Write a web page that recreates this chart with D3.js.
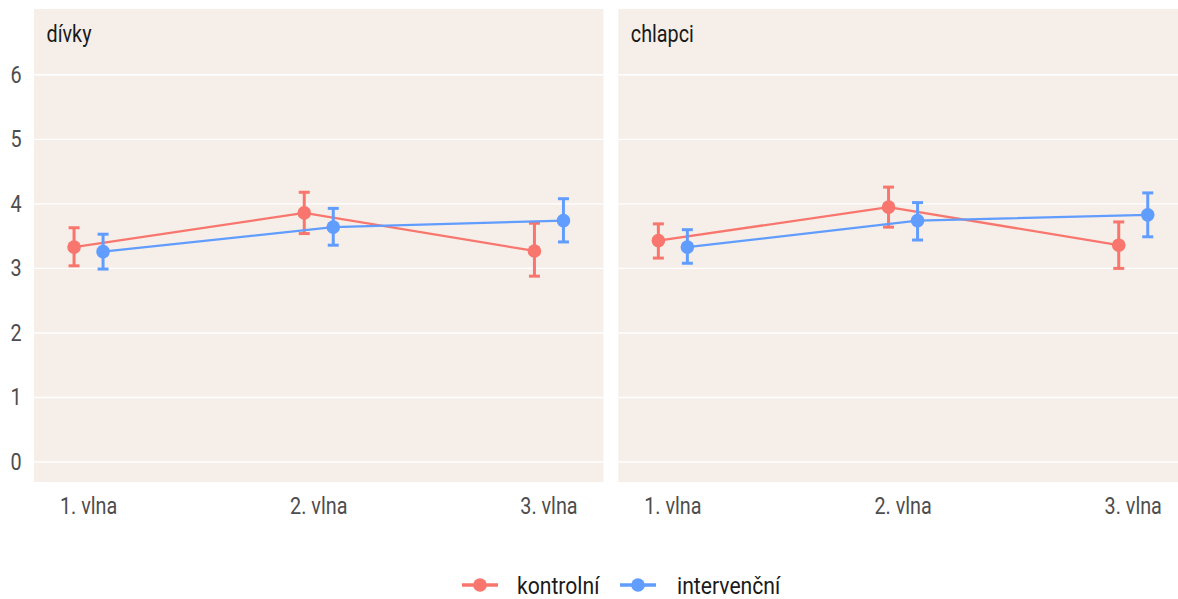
<!DOCTYPE html>
<html><head><meta charset="utf-8">
<script src="https://cdn.jsdelivr.net/npm/d3@7"></script>
<style>body{margin:0;background:#fff}svg{display:block}</style>
</head><body>
<svg id="c" width="1178" height="599"></svg>
<script>
const waves = ["1. vlna", "2. vlna", "3. vlna"];
const facets = ["dívky", "chlapci"];
const groups = ["kontrolní", "intervenční"];
const yTicks = [0, 1, 2, 3, 4, 5, 6];

// dívky
const divkyKontrolniMean = [3.33, 3.86, 3.27];
const divkyKontrolniLo   = [3.04, 3.54, 2.88];
const divkyKontrolniHi   = [3.63, 4.18, 3.70];
const divkyIntervMean    = [3.26, 3.64, 3.74];
const divkyIntervLo      = [2.99, 3.36, 3.41];
const divkyIntervHi      = [3.53, 3.93, 4.08];
// chlapci
const chlapciKontrolniMean = [3.43, 3.95, 3.36];
const chlapciKontrolniLo   = [3.16, 3.64, 3.00];
const chlapciKontrolniHi   = [3.69, 4.26, 3.72];
const chlapciIntervMean    = [3.33, 3.74, 3.83];
const chlapciIntervLo      = [3.08, 3.44, 3.49];
const chlapciIntervHi      = [3.60, 4.02, 4.17];

const colors = ["#F8766D", "#619CFF"];
const data = {
  "dívky": [
    {mean: divkyKontrolniMean, lo: divkyKontrolniLo, hi: divkyKontrolniHi},
    {mean: divkyIntervMean, lo: divkyIntervLo, hi: divkyIntervHi}],
  "chlapci": [
    {mean: chlapciKontrolniMean, lo: chlapciKontrolniLo, hi: chlapciKontrolniHi},
    {mean: chlapciIntervMean, lo: chlapciIntervLo, hi: chlapciIntervHi}]
};

const FONT = "Roboto, 'Liberation Sans', sans-serif";
const SX = 0.86, FS = 23;
const svg = d3.select("#c");
const panelTop = 9, panelBottom = 482, panelW = 569.5;
const panelLefts = [34, 618.3];

const y = d3.scaleLinear().domain([-0.31, 7.02]).range([panelBottom, panelTop]);
const x = d3.scalePoint().domain(waves).range([0, panelW]).padding(0.237);
const dodge = d3.scalePoint().domain(groups).range([-14.5, 14.5]);

function txt(g, px, py, s, anchor, size, color, sx) {
  return g.append("text").attr("transform", `translate(${px},${py}) scale(${sx || SX},1)`)
    .attr("text-anchor", anchor).attr("font-family", FONT).attr("font-size", size)
    .attr("fill", color).text(s);
}

facets.forEach((f, fi) => {
  const g = svg.append("g").attr("transform", `translate(${panelLefts[fi]},0)`);
  g.append("rect").attr("x", 0).attr("y", panelTop).attr("width", panelW)
    .attr("height", panelBottom - panelTop).attr("fill", "#f6efe9");
  g.selectAll("line.grid").data(yTicks).join("line").attr("class", "grid")
    .attr("x1", 0).attr("x2", panelW).attr("y1", d => y(d)).attr("y2", d => y(d))
    .attr("stroke", "#ffffff").attr("stroke-width", 1.4);
  txt(g, 12.5, 42, f, "start", FS, "#1a1a1a");

  // x labels
  waves.forEach(w => txt(g, x(w), 513.5, w, "middle", FS, "#4d4d4d"));

  data[f].forEach((s, si) => {
    const xs = waves.map(w => x(w) + dodge(groups[si]));
    const c = colors[si];
    // error bars
    waves.forEach((w, i) => {
      const cx = xs[i];
      g.append("line").attr("x1", cx).attr("x2", cx).attr("y1", y(s.lo[i])).attr("y2", y(s.hi[i]))
        .attr("stroke", c).attr("stroke-width", 3);
      [s.lo[i], s.hi[i]].forEach(v => g.append("line").attr("x1", cx - 5.5).attr("x2", cx + 5.5)
        .attr("y1", y(v)).attr("y2", y(v)).attr("stroke", c).attr("stroke-width", 3));
    });
    // line
    g.append("path").datum(waves.map((w, i) => [xs[i], y(s.mean[i])]))
      .attr("d", d3.line()).attr("fill", "none").attr("stroke", c).attr("stroke-width", 2.3);
    // points
    waves.forEach((w, i) => g.append("circle").attr("cx", xs[i]).attr("cy", y(s.mean[i]))
      .attr("r", 6.8).attr("fill", c));
  });
});

// y axis labels (left panel only)
const ya = svg.append("g");
yTicks.forEach(t => {
  txt(ya, 21.5, y(t) + 8, String(t), "end", FS, "#4d4d4d");
});

// legend
const leg = svg.append("g");
const legItems = [{x0: 462, tx: 517}, {x0: 620, tx: 677}];
groups.forEach((gname, i) => {
  const it = legItems[i];
  leg.append("line").attr("x1", it.x0).attr("x2", it.x0 + 36).attr("y1", 585).attr("y2", 585)
    .attr("stroke", colors[i]).attr("stroke-width", 3.5);
  leg.append("circle").attr("cx", it.x0 + 18).attr("cy", 585).attr("r", 6.8).attr("fill", colors[i]);
  txt(leg, it.tx, 594, gname, "start", FS, "#1a1a1a", 0.92);
});
</script>
</body></html>
